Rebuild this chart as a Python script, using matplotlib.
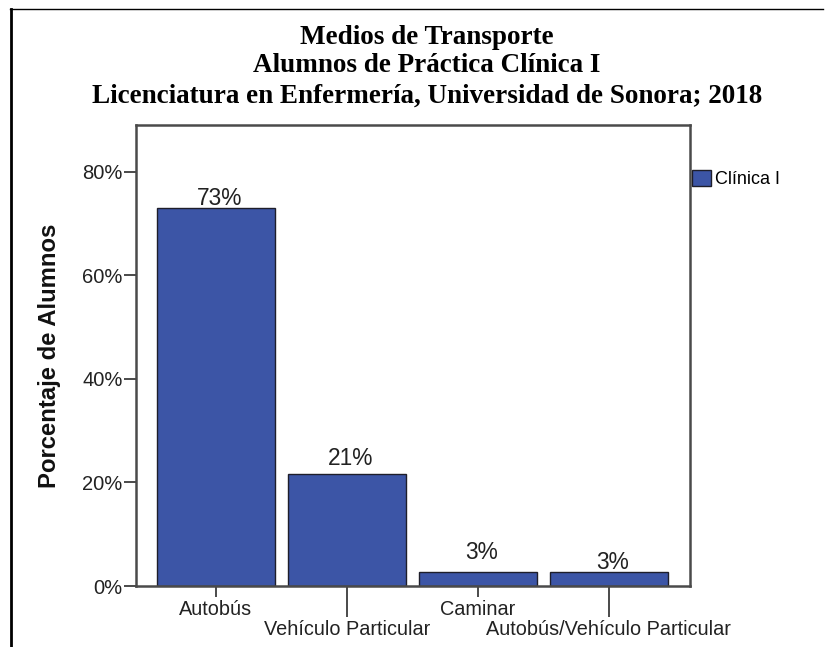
import matplotlib
matplotlib.use('Agg')
import matplotlib.pyplot as plt
from matplotlib.lines import Line2D

# Data
categorias = ['Autobús', 'Vehículo Particular', 'Caminar', 'Autobús/Vehículo Particular']
porcentajes = [73.0, 21.6, 2.7, 2.7]
etiquetas = ['73%', '21%', '3%', '3%']
serie = 'Clínica I'
titulo = ['Medios de Transporte',
          'Alumnos de Práctica Clínica I',
          'Licenciatura en Enfermería, Universidad de Sonora; 2018']
yticks = [0, 20, 40, 60, 80]
ytick_labels = ['0%', '20%', '40%', '60%', '80%']

# label nudges (pixels) to mimic the original placement
label_dy = [-2, 4, 8, -2]

W, H = 827, 647
fig = plt.figure(figsize=(W / 100, H / 100), dpi=100)
plt.rcParams['font.family'] = ['Liberation Sans', 'DejaVu Sans']

ax = fig.add_axes([136 / W, 1 - 586 / H, 554 / W, 461 / H])

azul = '#3c55a6'
gris = '#4a4a4a'
x = list(range(len(categorias)))
bars = ax.bar(x, porcentajes, width=0.9, color=azul, edgecolor='#1e1e2a',
              linewidth=1.0, label=serie, zorder=2)

ax.set_xlim(-0.61, 3.62)
ax.set_ylim(0, 89)

for sp in ax.spines.values():
    sp.set_color(gris)
    sp.set_linewidth(1.8)

ax.set_yticks(yticks, ytick_labels)
ax.tick_params(axis='y', length=8.6, width=1.4, color=gris, pad=1,
               labelsize=14.5, labelcolor='#222222')

# staggered category labels: short ticks for even, long ticks for odd
ax.set_xticks(x[0::2], categorias[0::2])
ax.set_xticks(x[1::2], categorias[1::2], minor=True)
ax.tick_params(axis='x', which='major', length=7.9, width=1.4, color=gris,
               pad=2.5, labelsize=14.3, labelcolor='#222222')
ax.tick_params(axis='x', which='minor', length=22.3, width=1.4, color=gris,
               pad=2, labelsize=14.3, labelcolor='#222222')

for b, txt, dy in zip(bars, etiquetas, label_dy):
    ax.annotate(txt, (b.get_x() + b.get_width() / 2, b.get_height()),
                xytext=(3, dy * 0.72), textcoords='offset points',
                ha='center', va='bottom', fontsize=16.4, color='#222222')

ax.set_ylabel('Porcentaje de Alumnos', fontsize=17.2, fontweight='bold',
              color='#111111')
ax.yaxis.set_label_coords(-0.135, 0.5)

ax.legend(loc='upper left', bbox_to_anchor=(692 / W, 1 - 170 / H),
          bbox_transform=fig.transFigure, frameon=False, fontsize=13,
          handlelength=1.05, handleheight=0.95, handletextpad=0.22,
          borderpad=0, borderaxespad=0)

# title
for linea, yy in zip(titulo, [37, 66, 96]):
    fig.text(427 / W, 1 - yy / H, linea, ha='center', va='center',
             fontsize=19.5, fontweight='bold', family='Liberation Serif')

# outer frame (top and left only)
fig.add_artist(Line2D([10 / W, 823 / W], [1 - 9 / H, 1 - 9 / H],
                      transform=fig.transFigure, color='black', linewidth=1.0))
fig.add_artist(Line2D([11 / W, 11 / W], [1 - 9 / H, 0],
                      transform=fig.transFigure, color='black', linewidth=2.0))

fig.savefig('out.png', dpi=100)
